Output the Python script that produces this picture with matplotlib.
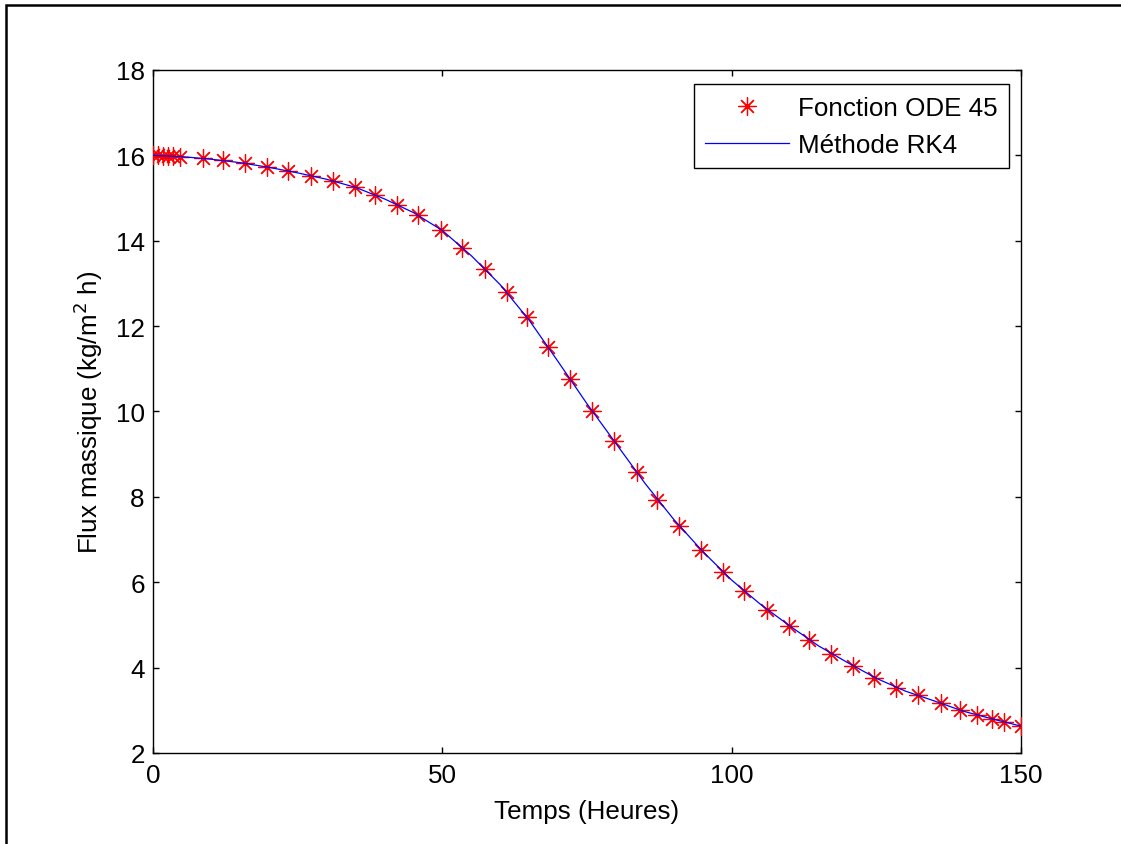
import matplotlib
matplotlib.use("Agg")
import matplotlib.pyplot as plt
from matplotlib.patches import Rectangle

plt.rcParams['font.family'] = ['Liberation Sans', 'DejaVu Sans']

# ODE45 output points (time in hours, mass flux)
t_ode45 = [0.0, 0.9, 1.7, 2.6, 3.5, 4.6, 8.6, 12.1, 15.9, 19.7, 23.3, 27.3,
           31.1, 34.9, 38.4, 42.2, 45.8, 49.8, 53.4, 57.4, 61.2, 64.6, 68.3,
           72.1, 75.9, 79.7, 83.6, 87.1, 90.9, 94.7, 98.5, 102.1, 106.1,
           109.9, 113.4, 117.2, 121.0, 124.6, 128.4, 132.2, 136.2, 139.4,
           142.4, 145.0, 147.1, 150.0]
flux_ode45 = [16.00, 16.00, 15.99, 15.99, 15.98, 15.97, 15.93, 15.88, 15.81,
              15.72, 15.63, 15.52, 15.40, 15.25, 15.07, 14.84, 14.60, 14.26,
              13.83, 13.34, 12.80, 12.21, 11.51, 10.76, 10.01, 9.31, 8.58,
              7.93, 7.32, 6.76, 6.24, 5.79, 5.35, 4.98, 4.65, 4.32, 4.04,
              3.76, 3.53, 3.35, 3.17, 3.00, 2.88, 2.79, 2.72, 2.63]

# RK4 solution
t_rk4 = [0, 5, 10, 15, 20, 25, 30, 35, 40, 45, 50, 55, 60, 65, 70, 75, 80,
         85, 90, 95, 100, 105, 110, 115, 120, 125, 130, 135, 140, 145, 150]
flux_rk4 = [16.00, 15.97, 15.91, 15.83, 15.72, 15.59, 15.44, 15.25, 14.98,
            14.66, 14.24, 13.65, 12.97, 12.14, 11.17, 10.18, 9.25, 8.32,
            7.47, 6.72, 6.05, 5.48, 4.98, 4.51, 4.12, 3.75, 3.45, 3.22,
            2.98, 2.80, 2.63]

FS = 18.7

fig = plt.figure(figsize=(11.21, 8.45), dpi=100)
ax = fig.add_axes([0.1365, 0.1077, 0.7743, 0.8083])

ax.plot(t_ode45, flux_ode45, linestyle='none', marker=(8, 2, 0),
        markersize=13, markeredgewidth=0.9, color='red',
        label='Fonction ODE 45', zorder=3)
ax.plot(t_rk4, flux_rk4, color='blue', linewidth=0.9,
        label='Méthode RK4', zorder=4)

ax.set_xlim(0, 150)
ax.set_ylim(2, 18)
ax.set_xticks([0, 50, 100, 150])
ax.set_yticks(range(2, 19, 2))
ax.tick_params(direction='in', top=True, right=True, length=4, width=1,
               labelsize=FS)
ax.tick_params(axis='x', pad=7)
ax.tick_params(axis='y', pad=6)
for sp in ax.spines.values():
    sp.set_linewidth(1.0)

ax.set_xlabel('Temps (Heures)', fontsize=FS, labelpad=9)
ax.set_ylabel('Flux massique (kg/m$^2$ h)', fontsize=FS, labelpad=8)

leg = ax.legend(loc='upper right', bbox_to_anchor=(1009 / 1121, 1 - 85 / 845),
                bbox_transform=fig.transFigure, borderaxespad=0,
                fontsize=FS, fancybox=False, edgecolor='black', framealpha=1,
                handlelength=3.2, handletextpad=0.35, labelspacing=0.5,
                borderpad=0.45)
leg.get_frame().set_linewidth(1.0)

# outer frame of the figure window
fig.add_artist(Rectangle((6 / 1121, -0.1), 1.2, 1.1 - 6 / 845,
                         transform=fig.transFigure, fill=False,
                         edgecolor='black', linewidth=1.8))

fig.savefig('out.png', dpi=100)
